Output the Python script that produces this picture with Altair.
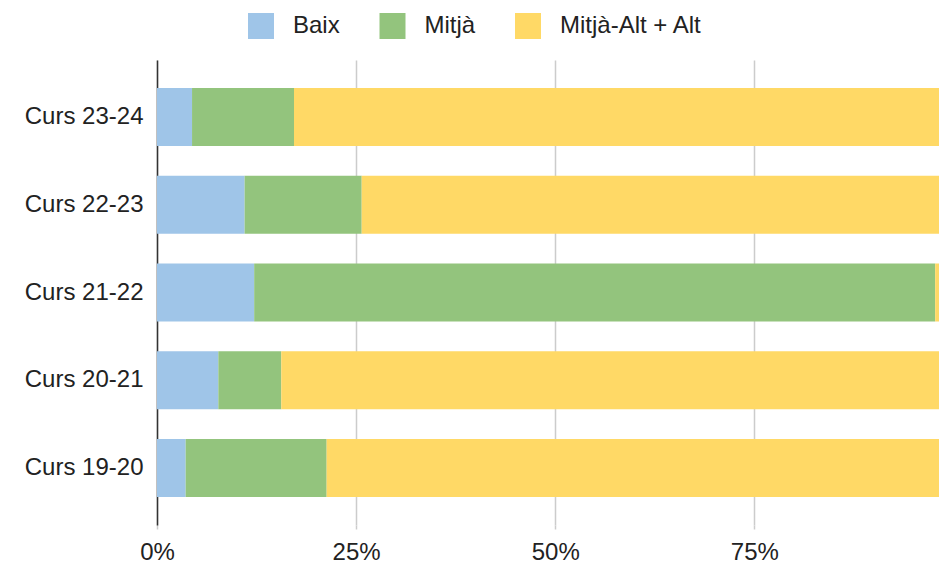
import altair as alt
import pandas as pd

cursos = ["Curs 23-24", "Curs 22-23", "Curs 21-22", "Curs 20-21", "Curs 19-20"]
series = ["Baix", "Mitjà", "Mitjà-Alt + Alt"]
baix = [4.4, 11.0, 12.2, 7.7, 3.6]
mitja = [12.8, 14.7, 85.5, 7.9, 17.7]
alt_vals = [82.8, 74.3, 2.3, 84.4, 78.7]
colors = ["#9fc5e8", "#93c47d", "#ffd966"]
x_ticks = [0, 0.25, 0.5, 0.75]

rows = []
for i, c in enumerate(cursos):
    for j, (s, vals) in enumerate(zip(series, [baix, mitja, alt_vals])):
        rows.append({"curs": c, "serie": s, "ordre": j, "valor": vals[i] / 100.0})
df = pd.DataFrame(rows)

FONT = "Liberation Sans"
FS = 24
PLOT_W = 782
FULL_W = 796.5

chart = alt.Chart(df).mark_bar(clip=True).encode(
    y=alt.Y("curs:N", sort=cursos, title=None,
            scale=alt.Scale(paddingInner=0.34, paddingOuter=0.32),
            axis=alt.Axis(labelFontSize=FS, labelFont=FONT, labelColor="#222222",
                          ticks=False, labelPadding=14, domainColor="#333333",
                          domainWidth=1.5, grid=False)),
    x=alt.X("valor:Q", stack="zero", title=None,
            scale=alt.Scale(domain=[0, PLOT_W / FULL_W], nice=False, zero=True),
            axis=alt.Axis(values=x_ticks, format=".0%", labelFontSize=FS, labelFont=FONT,
                          labelColor="#222222", grid=True, gridColor="#cccccc",
                          gridWidth=1.5, domain=False, tickColor="#cccccc",
                          tickWidth=1.5, tickSize=4, labelPadding=11,
                          labelFlush=False, labelOverlap=False)),
    color=alt.Color("serie:N", sort=series,
                    scale=alt.Scale(domain=series, range=colors),
                    legend=alt.Legend(title=None, orient="none", direction="horizontal",
                                      legendX=91, legendY=-47, symbolType="square",
                                      symbolSize=676, symbolStrokeWidth=0,
                                      symbolOpacity=1,
                                      labelFontSize=FS, labelFont=FONT,
                                      labelColor="#222222", labelOffset=19,
                                      columnPadding=39.5)),
    order=alt.Order("ordre:Q"),
).properties(
    width=PLOT_W, height=465,
    autosize=alt.AutoSizeParams(type="none"),
    padding={"left": 149, "top": 52, "right": 0, "bottom": 40},
).configure_view(stroke=None)

chart.save("out.html", embed_options={"renderer": "svg", "actions": False})
